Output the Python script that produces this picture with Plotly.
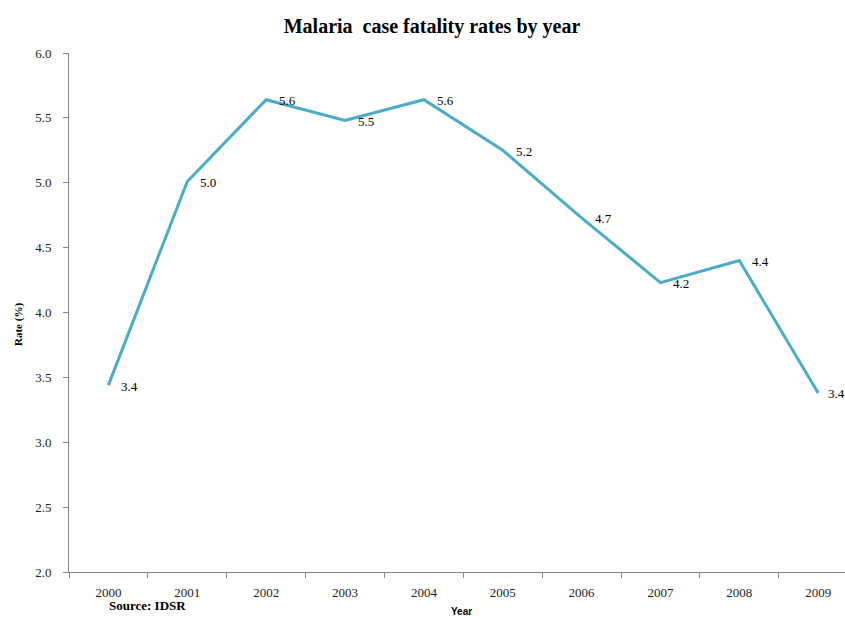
import plotly.graph_objects as go

# Malaria case fatality rates (%), IDSR
years = ["2000", "2001", "2002", "2003", "2004", "2005", "2006", "2007", "2008", "2009"]
rates = [3.44, 5.01, 5.64, 5.48, 5.64, 5.25, 4.73, 4.23, 4.40, 3.38]

y_ticks = [2.0, 2.5, 3.0, 3.5, 4.0, 4.5, 5.0, 5.5, 6.0]

serif = "Liberation Serif, Times New Roman, serif"
sans = "Liberation Sans, Arial, sans-serif"
line_color = "#4BACC6"
axis_color = "#868686"

# plot area in pixels
W, H = 845, 619
L, T, B = 69, 53, 47
plot_w = W - L
plot_h = H - T - B


def px_to_paper(px, py):
    return (px - L) / plot_w, (H - B - py) / plot_h


fig = go.Figure()

fig.add_trace(go.Scatter(
    x=years,
    y=rates,
    mode="lines",
    line=dict(color=line_color, width=3),
    hoverinfo="skip",
    showlegend=False,
))

annotations = []

# value labels to the right of each point (category axis -> use index positions)
for i, r in enumerate(rates):
    last = i == len(rates) - 1
    annotations.append(dict(
        x=i, y=r, xref="x", yref="y",
        text=f"{r:.1f}",
        showarrow=False,
        xanchor="left", yanchor="middle",
        xshift=8 if last else 11, yshift=-1,
        font=dict(family=serif, size=13, color="#000000"),
    ))

# axis titles and source note
rx, ry = px_to_paper(18, 325)
annotations.append(dict(
    text="<b>Rate (%)</b>", textangle=-90,
    x=rx, y=ry, xref="paper", yref="paper",
    xanchor="center", yanchor="middle",
    showarrow=False, font=dict(family=serif, size=11, color="#000000"),
))
yx, yy = px_to_paper(461, 611)
annotations.append(dict(
    text="<b>Year</b>",
    x=yx, y=yy, xref="paper", yref="paper",
    xanchor="center", yanchor="middle",
    showarrow=False, font=dict(family=sans, size=10, color="#000000"),
))
sx, sy = px_to_paper(147, 605)
annotations.append(dict(
    text="<b>Source: IDSR</b>",
    x=sx, y=sy, xref="paper", yref="paper",
    xanchor="center", yanchor="middle",
    showarrow=False, font=dict(family=serif, size=13, color="#000000"),
))

tx, _ = px_to_paper(432, 0)

fig.update_layout(
    width=W, height=H,
    margin=dict(l=L, r=0, t=T, b=B),
    paper_bgcolor="white",
    plot_bgcolor="white",
    title=dict(
        text="<b>Malaria  case fatality rates by year</b>",
        x=tx, xanchor="center",
        y=1 - 26 / H, yanchor="middle",
        xref="paper", yref="container",
        font=dict(family=serif, size=20, color="#000000"),
    ),
    xaxis=dict(
        type="category",
        range=[-0.5, 9.34],
        tickson="boundaries",
        ticks="outside", ticklen=5, tickcolor=axis_color,
        showline=True, linecolor=axis_color, linewidth=1,
        showgrid=False, zeroline=False,
        tickfont=dict(family=serif, size=13, color="#222222"),
        ticklabelstandoff=8,
    ),
    yaxis=dict(
        range=[2.0, 6.0],
        tickvals=y_ticks,
        tickformat=".1f",
        ticks="outside", ticklen=5, tickcolor=axis_color,
        showline=True, linecolor=axis_color, linewidth=1,
        showgrid=False, zeroline=False,
        tickfont=dict(family=serif, size=13, color="#222222"),
        ticklabelstandoff=9,
    ),
    annotations=annotations,
)

fig.write_html("out.html")
